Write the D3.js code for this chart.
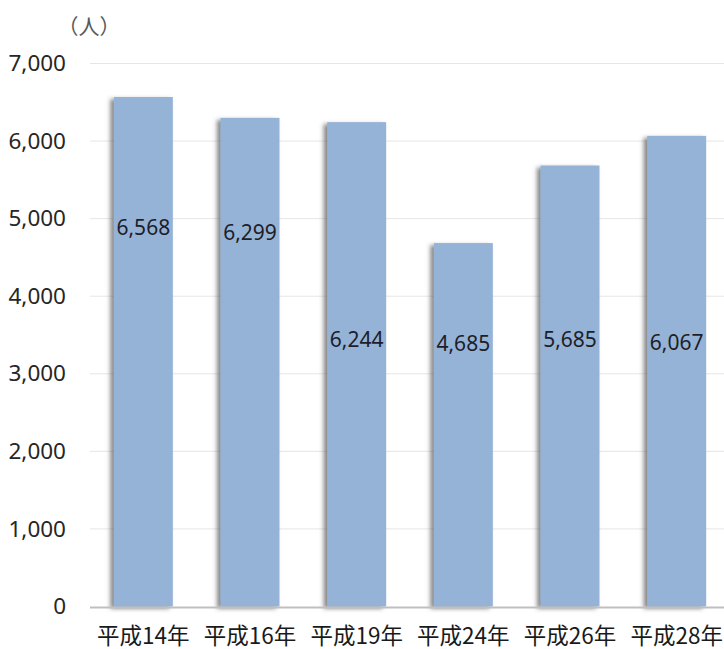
<!DOCTYPE html>
<html>
<head>
<meta charset="utf-8">
<script src="https://cdn.jsdelivr.net/npm/d3@7"></script>
<style>
  body { margin: 0; background: #fff; }
  text { font-family: "Noto Sans", "Noto Sans CJK JP", sans-serif; }
</style>
</head>
<body>
<div id="chart"></div>
<script>
// data
const categories = ["平成14年", "平成16年", "平成19年", "平成24年", "平成26年", "平成28年"];
const values = [6568, 6299, 6244, 4685, 5685, 6067];
// where each value label sits (in people, along the y axis)
const labelAt = [4880, 4824, 3436, 3384, 3436, 3397];
const yTicks = [0, 1000, 2000, 3000, 4000, 5000, 6000, 7000];
const unitLabel = "（人）";

const width = 724, height = 649;
const margin = { top: 63.5, right: -6, bottom: 42.5, left: 90 };

const svg = d3.select("#chart").append("svg")
  .attr("width", width)
  .attr("height", height);

// soft shadow on the left of the bars, like the original
const defs = svg.append("defs");
const shadow = defs.append("filter").attr("id", "shadow")
  .attr("x", "-30%").attr("y", "-10%").attr("width", "160%").attr("height", "120%");
shadow.append("feDropShadow")
  .attr("dx", -3.5).attr("dy", 2).attr("stdDeviation", 2)
  .attr("flood-color", "#555").attr("flood-opacity", 0.7);

let x = d3.scaleBand()
  .domain(categories)
  .range([margin.left, width - margin.right])
  .paddingInner(0.447)
  .paddingOuter(0.2235);

let y = d3.scaleLinear()
  .domain([0, 7000])
  .range([height - margin.bottom, margin.top]);

// gridlines
svg.append("g")
  .selectAll("line")
  .data(yTicks.filter(d => d > 0))
  .join("line")
  .attr("x1", margin.left)
  .attr("x2", width)
  .attr("y1", d => y(d))
  .attr("y2", d => y(d))
  .attr("stroke", "#e6e6e6")
  .attr("stroke-width", 1);

// y axis labels
const yAxis = d3.axisLeft(y)
  .tickValues(yTicks)
  .tickFormat(d3.format(","))
  .tickSize(0)
  .tickPadding(24);
svg.append("g")
  .attr("transform", "translate(" + margin.left + ",0)")
  .call(yAxis)
  .call(g => g.select(".domain").remove())
  .call(g => g.selectAll("text")
    .attr("font-size", 22.5)
    .attr("fill", "#262626")
    .style("font-family", "'Noto Sans', sans-serif"));

// bars
svg.append("g")
  .selectAll("rect")
  .data(values)
  .join("rect")
  .attr("x", (d, i) => x(categories[i]))
  .attr("y", d => y(d))
  .attr("width", x.bandwidth())
  .attr("height", d => y(0) - y(d))
  .attr("fill", "#95b3d7")
  .attr("filter", "url(#shadow)");

// baseline
svg.append("line")
  .attr("x1", margin.left)
  .attr("x2", width)
  .attr("y1", y(0) + 1)
  .attr("y2", y(0) + 1)
  .attr("stroke", "#bfbfbf")
  .attr("stroke-width", 2);

// value labels
svg.append("g")
  .selectAll("text")
  .data(values)
  .join("text")
  .attr("x", (d, i) => x(categories[i]) + x.bandwidth() / 2)
  .attr("y", (d, i) => y(labelAt[i]))
  .attr("dy", "0.35em")
  .attr("text-anchor", "middle")
  .attr("font-size", 21)
  .attr("fill", "#1e1e28")
  .text(d => d3.format(",")(d));

// x axis labels
const xAxis = d3.axisBottom(x).tickSize(0).tickPadding(22);
svg.append("g")
  .attr("transform", "translate(0," + y(0) + ")")
  .call(xAxis)
  .call(g => g.select(".domain").remove())
  .call(g => g.selectAll("text")
    .attr("font-size", 22.5)
    .attr("fill", "#1a1a1a")
    .style("font-family", "'Noto Sans CJK JP', sans-serif"));

// unit label
svg.append("text")
  .attr("x", 89)
  .attr("y", 27)
  .attr("dy", "0.35em")
  .attr("text-anchor", "middle")
  .attr("font-size", 21)
  .attr("fill", "#595959")
  .style("font-family", "'Noto Sans CJK JP', sans-serif")
  .text(unitLabel);
</script>
</body>
</html>
